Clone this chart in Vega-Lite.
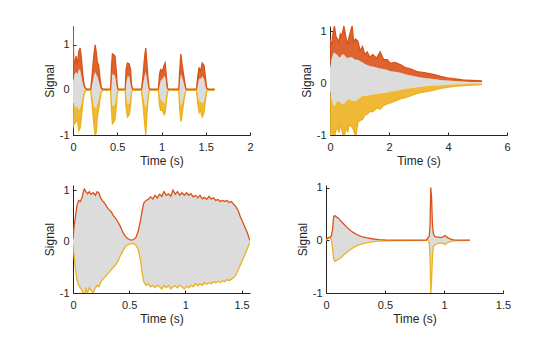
{
  "$schema": "https://vega.github.io/schema/vega-lite/v6.json",
  "padding": {"left": 43, "top": 25, "right": 5, "bottom": 5},
  "background": "white",
  "datasets": {
    "p1": [
      {"t": 0.000, "hi": 1.42, "hb": 0.2, "lb": -0.3, "lo": -0.85},
      {"t": 0.010, "hi": 0.55, "hb": 0.3, "lb": -0.3, "lo": -0.6},
      {"t": 0.020, "hi": 0.6, "hb": 0.35, "lb": -0.35, "lo": -0.75},
      {"t": 0.035, "hi": 0.75, "hb": 0.4, "lb": -0.4, "lo": -0.7},
      {"t": 0.050, "hi": 0.55, "hb": 0.35, "lb": -0.35, "lo": -0.65},
      {"t": 0.065, "hi": 0.85, "hb": 0.45, "lb": -0.45, "lo": -0.9},
      {"t": 0.080, "hi": 0.93, "hb": 0.45, "lb": -0.4, "lo": -0.85},
      {"t": 0.095, "hi": 0.7, "hb": 0.3, "lb": -0.3, "lo": -0.6},
      {"t": 0.110, "hi": 0.35, "hb": 0.15, "lb": -0.15, "lo": -0.3},
      {"t": 0.125, "hi": 0.12, "hb": 0.05, "lb": -0.05, "lo": -0.1},
      {"t": 0.140, "hi": 0.04, "hb": 0.01, "lb": -0.01, "lo": -0.02},
      {"t": 0.155, "hi": 0.02, "hb": 0.005, "lb": -0.005, "lo": -0.01},
      {"t": 0.200, "hi": 0.02, "hb": 0.005, "lb": -0.005, "lo": -0.01},
      {"t": 0.215, "hi": 0.3, "hb": 0.1, "lb": -0.1, "lo": -0.3},
      {"t": 0.235, "hi": 0.75, "hb": 0.3, "lb": -0.35, "lo": -0.75},
      {"t": 0.250, "hi": 1.0, "hb": 0.4, "lb": -0.4, "lo": -1.0},
      {"t": 0.262, "hi": 0.85, "hb": 0.35, "lb": -0.4, "lo": -0.95},
      {"t": 0.275, "hi": 0.62, "hb": 0.3, "lb": -0.3, "lo": -0.6},
      {"t": 0.290, "hi": 0.55, "hb": 0.2, "lb": -0.2, "lo": -0.45},
      {"t": 0.305, "hi": 0.25, "hb": 0.08, "lb": -0.08, "lo": -0.2},
      {"t": 0.320, "hi": 0.05, "hb": 0.01, "lb": -0.01, "lo": -0.04},
      {"t": 0.335, "hi": 0.02, "hb": 0.005, "lb": -0.005, "lo": -0.01},
      {"t": 0.425, "hi": 0.02, "hb": 0.005, "lb": -0.005, "lo": -0.01},
      {"t": 0.435, "hi": 0.5, "hb": 0.2, "lb": -0.2, "lo": -0.45},
      {"t": 0.445, "hi": 0.8, "hb": 0.35, "lb": -0.35, "lo": -0.75},
      {"t": 0.460, "hi": 0.78, "hb": 0.35, "lb": -0.35, "lo": -0.72},
      {"t": 0.475, "hi": 0.75, "hb": 0.3, "lb": -0.3, "lo": -0.65},
      {"t": 0.490, "hi": 0.4, "hb": 0.15, "lb": -0.15, "lo": -0.35},
      {"t": 0.500, "hi": 0.1, "hb": 0.03, "lb": -0.03, "lo": -0.08},
      {"t": 0.510, "hi": 0.02, "hb": 0.005, "lb": -0.005, "lo": -0.01},
      {"t": 0.590, "hi": 0.02, "hb": 0.005, "lb": -0.005, "lo": -0.01},
      {"t": 0.600, "hi": 0.45, "hb": 0.15, "lb": -0.15, "lo": -0.4},
      {"t": 0.615, "hi": 0.6, "hb": 0.3, "lb": -0.3, "lo": -0.6},
      {"t": 0.635, "hi": 0.58, "hb": 0.3, "lb": -0.3, "lo": -0.55},
      {"t": 0.650, "hi": 0.45, "hb": 0.15, "lb": -0.15, "lo": -0.35},
      {"t": 0.662, "hi": 0.1, "hb": 0.03, "lb": -0.03, "lo": -0.05},
      {"t": 0.675, "hi": 0.02, "hb": 0.005, "lb": -0.005, "lo": -0.01},
      {"t": 0.775, "hi": 0.02, "hb": 0.005, "lb": -0.005, "lo": -0.01},
      {"t": 0.790, "hi": 0.3, "hb": 0.1, "lb": -0.1, "lo": -0.3},
      {"t": 0.808, "hi": 0.7, "hb": 0.3, "lb": -0.3, "lo": -0.7},
      {"t": 0.822, "hi": 0.93, "hb": 0.4, "lb": -0.4, "lo": -1.0},
      {"t": 0.835, "hi": 0.6, "hb": 0.25, "lb": -0.25, "lo": -0.55},
      {"t": 0.848, "hi": 0.25, "hb": 0.1, "lb": -0.1, "lo": -0.2},
      {"t": 0.860, "hi": 0.04, "hb": 0.01, "lb": -0.01, "lo": -0.03},
      {"t": 0.870, "hi": 0.02, "hb": 0.005, "lb": -0.005, "lo": -0.01},
      {"t": 0.965, "hi": 0.02, "hb": 0.005, "lb": -0.005, "lo": -0.01},
      {"t": 0.978, "hi": 0.35, "hb": 0.1, "lb": -0.1, "lo": -0.35},
      {"t": 0.990, "hi": 0.45, "hb": 0.2, "lb": -0.2, "lo": -0.45},
      {"t": 1.010, "hi": 0.42, "hb": 0.25, "lb": -0.25, "lo": -0.45},
      {"t": 1.030, "hi": 0.55, "hb": 0.3, "lb": -0.3, "lo": -0.55},
      {"t": 1.042, "hi": 0.6, "hb": 0.3, "lb": -0.3, "lo": -0.5},
      {"t": 1.055, "hi": 0.3, "hb": 0.1, "lb": -0.1, "lo": -0.25},
      {"t": 1.068, "hi": 0.04, "hb": 0.01, "lb": -0.01, "lo": -0.03},
      {"t": 1.080, "hi": 0.02, "hb": 0.005, "lb": -0.005, "lo": -0.01},
      {"t": 1.195, "hi": 0.02, "hb": 0.005, "lb": -0.005, "lo": -0.01},
      {"t": 1.205, "hi": 0.4, "hb": 0.15, "lb": -0.15, "lo": -0.4},
      {"t": 1.218, "hi": 0.8, "hb": 0.35, "lb": -0.35, "lo": -0.7},
      {"t": 1.230, "hi": 0.6, "hb": 0.3, "lb": -0.3, "lo": -0.6},
      {"t": 1.245, "hi": 0.4, "hb": 0.2, "lb": -0.2, "lo": -0.35},
      {"t": 1.260, "hi": 0.2, "hb": 0.08, "lb": -0.08, "lo": -0.15},
      {"t": 1.275, "hi": 0.03, "hb": 0.01, "lb": -0.01, "lo": -0.02},
      {"t": 1.285, "hi": 0.02, "hb": 0.005, "lb": -0.005, "lo": -0.01},
      {"t": 1.395, "hi": 0.02, "hb": 0.005, "lb": -0.005, "lo": -0.01},
      {"t": 1.410, "hi": 0.3, "hb": 0.1, "lb": -0.1, "lo": -0.3},
      {"t": 1.425, "hi": 0.5, "hb": 0.25, "lb": -0.25, "lo": -0.5},
      {"t": 1.440, "hi": 0.4, "hb": 0.25, "lb": -0.25, "lo": -0.45},
      {"t": 1.460, "hi": 0.6, "hb": 0.3, "lb": -0.3, "lo": -0.6},
      {"t": 1.480, "hi": 0.55, "hb": 0.25, "lb": -0.25, "lo": -0.5},
      {"t": 1.495, "hi": 0.3, "hb": 0.1, "lb": -0.1, "lo": -0.25},
      {"t": 1.510, "hi": 0.05, "hb": 0.01, "lb": -0.01, "lo": -0.03},
      {"t": 1.525, "hi": 0.02, "hb": 0.005, "lb": -0.005, "lo": -0.01},
      {"t": 1.600, "hi": 0.02, "hb": 0.005, "lb": -0.005, "lo": -0.01}
    ],
    "p2": [
      {"t": 0.00, "hi": 0.85, "hb": 0.3, "lb": -0.15, "lo": -1.0},
      {"t": 0.05, "hi": 0.7, "hb": 0.45, "lb": -0.3, "lo": -0.95},
      {"t": 0.10, "hi": 0.95, "hb": 0.55, "lb": -0.4, "lo": -1.0},
      {"t": 0.15, "hi": 1.1, "hb": 0.6, "lb": -0.45, "lo": -1.05},
      {"t": 0.20, "hi": 0.9, "hb": 0.55, "lb": -0.4, "lo": -0.9},
      {"t": 0.25, "hi": 0.85, "hb": 0.55, "lb": -0.35, "lo": -0.85},
      {"t": 0.30, "hi": 0.8, "hb": 0.5, "lb": -0.35, "lo": -0.95},
      {"t": 0.35, "hi": 0.95, "hb": 0.5, "lb": -0.38, "lo": -0.8},
      {"t": 0.40, "hi": 0.9, "hb": 0.55, "lb": -0.4, "lo": -0.9},
      {"t": 0.47, "hi": 1.1, "hb": 0.55, "lb": -0.4, "lo": -1.05},
      {"t": 0.55, "hi": 0.85, "hb": 0.5, "lb": -0.35, "lo": -0.85},
      {"t": 0.60, "hi": 0.75, "hb": 0.48, "lb": -0.33, "lo": -0.95},
      {"t": 0.65, "hi": 0.9, "hb": 0.5, "lb": -0.3, "lo": -0.8},
      {"t": 0.75, "hi": 1.1, "hb": 0.5, "lb": -0.35, "lo": -0.85},
      {"t": 0.80, "hi": 0.8, "hb": 0.47, "lb": -0.33, "lo": -0.9},
      {"t": 0.87, "hi": 0.85, "hb": 0.45, "lb": -0.35, "lo": -1.05},
      {"t": 0.95, "hi": 0.8, "hb": 0.45, "lb": -0.3, "lo": -0.75},
      {"t": 1.02, "hi": 0.62, "hb": 0.42, "lb": -0.28, "lo": -0.72},
      {"t": 1.10, "hi": 0.7, "hb": 0.4, "lb": -0.25, "lo": -0.7},
      {"t": 1.18, "hi": 0.55, "hb": 0.37, "lb": -0.25, "lo": -0.62},
      {"t": 1.26, "hi": 0.6, "hb": 0.35, "lb": -0.25, "lo": -0.6},
      {"t": 1.35, "hi": 0.5, "hb": 0.33, "lb": -0.23, "lo": -0.55},
      {"t": 1.45, "hi": 0.55, "hb": 0.32, "lb": -0.22, "lo": -0.55},
      {"t": 1.58, "hi": 0.48, "hb": 0.3, "lb": -0.21, "lo": -0.48},
      {"t": 1.70, "hi": 0.6, "hb": 0.28, "lb": -0.2, "lo": -0.5},
      {"t": 1.82, "hi": 0.45, "hb": 0.27, "lb": -0.19, "lo": -0.43},
      {"t": 1.94, "hi": 0.45, "hb": 0.25, "lb": -0.18, "lo": -0.4},
      {"t": 2.05, "hi": 0.38, "hb": 0.23, "lb": -0.16, "lo": -0.38},
      {"t": 2.20, "hi": 0.4, "hb": 0.22, "lb": -0.15, "lo": -0.35},
      {"t": 2.40, "hi": 0.35, "hb": 0.2, "lb": -0.13, "lo": -0.3},
      {"t": 2.55, "hi": 0.3, "hb": 0.17, "lb": -0.11, "lo": -0.28},
      {"t": 2.70, "hi": 0.28, "hb": 0.15, "lb": -0.1, "lo": -0.25},
      {"t": 2.95, "hi": 0.22, "hb": 0.12, "lb": -0.08, "lo": -0.2},
      {"t": 3.20, "hi": 0.2, "hb": 0.1, "lb": -0.06, "lo": -0.17},
      {"t": 3.50, "hi": 0.17, "hb": 0.08, "lb": -0.05, "lo": -0.14},
      {"t": 3.75, "hi": 0.13, "hb": 0.06, "lb": -0.04, "lo": -0.1},
      {"t": 3.97, "hi": 0.1, "hb": 0.05, "lb": -0.03, "lo": -0.08},
      {"t": 4.25, "hi": 0.08, "hb": 0.04, "lb": -0.02, "lo": -0.06},
      {"t": 4.50, "hi": 0.06, "hb": 0.03, "lb": -0.02, "lo": -0.05},
      {"t": 4.80, "hi": 0.05, "hb": 0.02, "lb": -0.01, "lo": -0.04},
      {"t": 5.15, "hi": 0.04, "hb": 0.02, "lb": -0.01, "lo": -0.03}
    ],
    "p3": [
      {"t": 0.000, "hi": 0.05, "lo": -0.05},
      {"t": 0.010, "hi": 0.3, "lo": -0.3},
      {"t": 0.020, "hi": 0.45, "lo": -0.5},
      {"t": 0.035, "hi": 0.7, "lo": -0.75},
      {"t": 0.050, "hi": 0.8, "lo": -0.85},
      {"t": 0.065, "hi": 0.78, "lo": -0.9},
      {"t": 0.080, "hi": 0.85, "lo": -0.95},
      {"t": 0.090, "hi": 0.95, "lo": -1.02},
      {"t": 0.100, "hi": 1.02, "lo": -1.05},
      {"t": 0.115, "hi": 0.97, "lo": -0.92},
      {"t": 0.130, "hi": 0.93, "lo": -1.0},
      {"t": 0.145, "hi": 0.97, "lo": -0.9},
      {"t": 0.160, "hi": 0.92, "lo": -0.95},
      {"t": 0.180, "hi": 0.95, "lo": -1.0},
      {"t": 0.200, "hi": 0.9, "lo": -0.9},
      {"t": 0.215, "hi": 0.97, "lo": -0.85},
      {"t": 0.230, "hi": 0.95, "lo": -0.88},
      {"t": 0.245, "hi": 0.85, "lo": -0.8},
      {"t": 0.260, "hi": 0.8, "lo": -0.75},
      {"t": 0.280, "hi": 0.75, "lo": -0.7},
      {"t": 0.300, "hi": 0.68, "lo": -0.65},
      {"t": 0.320, "hi": 0.62, "lo": -0.6},
      {"t": 0.340, "hi": 0.58, "lo": -0.55},
      {"t": 0.360, "hi": 0.5, "lo": -0.5},
      {"t": 0.380, "hi": 0.45, "lo": -0.45},
      {"t": 0.400, "hi": 0.38, "lo": -0.38},
      {"t": 0.420, "hi": 0.3, "lo": -0.28},
      {"t": 0.440, "hi": 0.2, "lo": -0.2},
      {"t": 0.460, "hi": 0.12, "lo": -0.12},
      {"t": 0.480, "hi": 0.07, "lo": -0.07},
      {"t": 0.500, "hi": 0.04, "lo": -0.05},
      {"t": 0.520, "hi": 0.03, "lo": -0.04},
      {"t": 0.540, "hi": 0.04, "lo": -0.04},
      {"t": 0.560, "hi": 0.08, "lo": -0.07},
      {"t": 0.580, "hi": 0.2, "lo": -0.15},
      {"t": 0.600, "hi": 0.4, "lo": -0.35},
      {"t": 0.615, "hi": 0.6, "lo": -0.6},
      {"t": 0.630, "hi": 0.75, "lo": -0.78},
      {"t": 0.650, "hi": 0.8, "lo": -0.85},
      {"t": 0.670, "hi": 0.82, "lo": -0.82},
      {"t": 0.690, "hi": 0.87, "lo": -0.88},
      {"t": 0.710, "hi": 0.83, "lo": -0.85},
      {"t": 0.730, "hi": 0.9, "lo": -0.9},
      {"t": 0.750, "hi": 0.85, "lo": -0.85},
      {"t": 0.770, "hi": 0.92, "lo": -0.88},
      {"t": 0.790, "hi": 0.88, "lo": -0.92},
      {"t": 0.810, "hi": 0.97, "lo": -0.85},
      {"t": 0.830, "hi": 0.9, "lo": -0.9},
      {"t": 0.850, "hi": 0.93, "lo": -0.85},
      {"t": 0.870, "hi": 0.88, "lo": -0.92},
      {"t": 0.890, "hi": 1.0, "lo": -0.88},
      {"t": 0.910, "hi": 0.92, "lo": -0.86},
      {"t": 0.930, "hi": 0.97, "lo": -0.9},
      {"t": 0.950, "hi": 0.9, "lo": -0.85},
      {"t": 0.970, "hi": 0.95, "lo": -0.88},
      {"t": 0.990, "hi": 0.9, "lo": -0.92},
      {"t": 1.010, "hi": 0.95, "lo": -0.87},
      {"t": 1.030, "hi": 0.9, "lo": -0.9},
      {"t": 1.050, "hi": 0.93, "lo": -0.85},
      {"t": 1.070, "hi": 0.87, "lo": -0.88},
      {"t": 1.090, "hi": 0.9, "lo": -0.82},
      {"t": 1.110, "hi": 0.85, "lo": -0.86},
      {"t": 1.130, "hi": 0.9, "lo": -0.82},
      {"t": 1.150, "hi": 0.83, "lo": -0.85},
      {"t": 1.170, "hi": 0.86, "lo": -0.8},
      {"t": 1.190, "hi": 0.82, "lo": -0.83},
      {"t": 1.210, "hi": 0.88, "lo": -0.8},
      {"t": 1.230, "hi": 0.83, "lo": -0.82},
      {"t": 1.250, "hi": 0.85, "lo": -0.78},
      {"t": 1.270, "hi": 0.8, "lo": -0.8},
      {"t": 1.290, "hi": 0.82, "lo": -0.77},
      {"t": 1.310, "hi": 0.78, "lo": -0.8},
      {"t": 1.330, "hi": 0.8, "lo": -0.76},
      {"t": 1.350, "hi": 0.78, "lo": -0.78},
      {"t": 1.370, "hi": 0.8, "lo": -0.74},
      {"t": 1.390, "hi": 0.76, "lo": -0.76},
      {"t": 1.410, "hi": 0.78, "lo": -0.73},
      {"t": 1.430, "hi": 0.72, "lo": -0.7},
      {"t": 1.450, "hi": 0.68, "lo": -0.65},
      {"t": 1.470, "hi": 0.6, "lo": -0.55},
      {"t": 1.490, "hi": 0.48, "lo": -0.45},
      {"t": 1.510, "hi": 0.38, "lo": -0.35},
      {"t": 1.530, "hi": 0.28, "lo": -0.25},
      {"t": 1.550, "hi": 0.18, "lo": -0.15},
      {"t": 1.565, "hi": 0.08, "lo": -0.06},
      {"t": 1.575, "hi": 0.02, "lo": -0.02}
    ],
    "p4": [
      {"t": 0.000, "hi": 0.02, "lo": 0.0},
      {"t": 0.020, "hi": 0.05, "lo": 0.04},
      {"t": 0.035, "hi": 0.06, "lo": 0.05},
      {"t": 0.045, "hi": 0.08, "lo": 0.02},
      {"t": 0.055, "hi": 0.2, "lo": -0.15},
      {"t": 0.065, "hi": 0.45, "lo": -0.35},
      {"t": 0.075, "hi": 0.47, "lo": -0.4},
      {"t": 0.090, "hi": 0.44, "lo": -0.38},
      {"t": 0.105, "hi": 0.42, "lo": -0.36},
      {"t": 0.125, "hi": 0.37, "lo": -0.33},
      {"t": 0.150, "hi": 0.31, "lo": -0.28},
      {"t": 0.175, "hi": 0.25, "lo": -0.23},
      {"t": 0.200, "hi": 0.2, "lo": -0.19},
      {"t": 0.230, "hi": 0.15, "lo": -0.14},
      {"t": 0.260, "hi": 0.11, "lo": -0.1},
      {"t": 0.300, "hi": 0.07, "lo": -0.07},
      {"t": 0.340, "hi": 0.05, "lo": -0.05},
      {"t": 0.400, "hi": 0.025, "lo": -0.025},
      {"t": 0.450, "hi": 0.015, "lo": -0.015},
      {"t": 0.500, "hi": 0.008, "lo": -0.008},
      {"t": 0.600, "hi": 0.004, "lo": -0.004},
      {"t": 0.850, "hi": 0.003, "lo": -0.003},
      {"t": 0.862, "hi": 0.04, "lo": 0.02},
      {"t": 0.875, "hi": 0.08, "lo": -0.05},
      {"t": 0.882, "hi": 0.3, "lo": -0.3},
      {"t": 0.888, "hi": 1.0, "lo": -1.0},
      {"t": 0.895, "hi": 0.8, "lo": -0.75},
      {"t": 0.902, "hi": 0.3, "lo": -0.3},
      {"t": 0.910, "hi": 0.12, "lo": -0.12},
      {"t": 0.925, "hi": 0.07, "lo": -0.08},
      {"t": 0.950, "hi": 0.06, "lo": -0.06},
      {"t": 0.975, "hi": 0.05, "lo": -0.05},
      {"t": 0.995, "hi": 0.07, "lo": -0.06},
      {"t": 1.010, "hi": 0.09, "lo": -0.08},
      {"t": 1.025, "hi": 0.06, "lo": -0.05},
      {"t": 1.045, "hi": 0.03, "lo": -0.03},
      {"t": 1.080, "hi": 0.01, "lo": -0.01},
      {"t": 1.150, "hi": 0.004, "lo": -0.004},
      {"t": 1.220, "hi": 0.003, "lo": -0.003}
    ]
  },
  "vconcat": [
    {
      "hconcat": [
        {
          "width": 177, "height": 109,
          "data": {"name": "p1"},
          "encoding": {
            "x": {"field": "t", "type": "quantitative", "title": "Time (s)", "scale": {"domain": [0, 2], "nice": false, "zero": false}, "axis": {"values": [0, 0.5, 1, 1.5, 2], "labelExpr": "'' + datum.value"}}
          },
          "layer": [
            {"mark": {"type": "area", "color": "#dcdcdc", "clip": true}, "encoding": {"y": {"field": "lb", "type": "quantitative", "title": "Signal", "scale": {"domain": [-1, 1.42], "nice": false, "zero": false}, "axis": {"values": [-1, -0.5, 0, 0.5, 1], "labelExpr": "'' + datum.value"}}, "y2": {"field": "hb"}}},
            {"mark": {"type": "area", "color": "#D95319", "opacity": 0.9, "clip": true}, "encoding": {"y": {"field": "hb", "type": "quantitative", "title": "Signal"}, "y2": {"field": "hi"}}},
            {"mark": {"type": "area", "color": "#EDB120", "opacity": 0.9, "clip": true}, "encoding": {"y": {"field": "lo", "type": "quantitative", "title": "Signal"}, "y2": {"field": "lb"}}},
            {"mark": {"type": "line", "color": "#EDB120", "strokeWidth": 1.3, "clip": true}, "encoding": {"y": {"field": "lo", "type": "quantitative", "title": "Signal"}}},
            {"mark": {"type": "line", "color": "#D95319", "strokeWidth": 1.3, "clip": true}, "encoding": {"y": {"field": "hi", "type": "quantitative", "title": "Signal"}}}
          ]
        },
        {
          "width": 177, "height": 109,
          "data": {"name": "p2"},
          "encoding": {
            "x": {"field": "t", "type": "quantitative", "title": "Time (s)", "scale": {"domain": [0, 6], "nice": false, "zero": false}, "axis": {"values": [0, 2, 4, 6], "labelExpr": "'' + datum.value"}}
          },
          "layer": [
            {"mark": {"type": "area", "color": "#dcdcdc", "clip": true}, "encoding": {"y": {"field": "lb", "type": "quantitative", "title": "Signal", "scale": {"domain": [-1, 1.1], "nice": false, "zero": false}, "axis": {"values": [-1, -0.5, 0, 0.5, 1], "labelExpr": "'' + datum.value"}}, "y2": {"field": "hb"}}},
            {"mark": {"type": "area", "color": "#D95319", "opacity": 0.9, "clip": true}, "encoding": {"y": {"field": "hb", "type": "quantitative", "title": "Signal"}, "y2": {"field": "hi"}}},
            {"mark": {"type": "area", "color": "#EDB120", "opacity": 0.9, "clip": true}, "encoding": {"y": {"field": "lo", "type": "quantitative", "title": "Signal"}, "y2": {"field": "lb"}}},
            {"mark": {"type": "line", "color": "#EDB120", "strokeWidth": 1.3, "clip": true}, "encoding": {"y": {"field": "lo", "type": "quantitative", "title": "Signal"}}},
            {"mark": {"type": "line", "color": "#D95319", "strokeWidth": 1.3, "clip": true}, "encoding": {"y": {"field": "hi", "type": "quantitative", "title": "Signal"}}}
          ]
        }
      ],
      "spacing": 46
    },
    {
      "hconcat": [
        {
          "width": 177, "height": 108,
          "data": {"name": "p3"},
          "encoding": {
            "x": {"field": "t", "type": "quantitative", "title": "Time (s)", "scale": {"domain": [0, 1.575], "nice": false, "zero": false}, "axis": {"values": [0, 0.5, 1, 1.5], "labelExpr": "'' + datum.value"}}
          },
          "layer": [
            {"mark": {"type": "area", "color": "#dcdcdc", "clip": true}, "encoding": {"y": {"field": "lo", "type": "quantitative", "title": "Signal", "scale": {"domain": [-1, 1.1], "nice": false, "zero": false}, "axis": {"values": [-1, -0.5, 0, 0.5, 1], "labelExpr": "'' + datum.value"}}, "y2": {"field": "hi"}}},
            {"mark": {"type": "line", "color": "#EDB120", "strokeWidth": 1.3, "clip": true}, "encoding": {"y": {"field": "lo", "type": "quantitative", "title": "Signal"}}},
            {"mark": {"type": "line", "color": "#D95319", "strokeWidth": 1.3, "clip": true}, "encoding": {"y": {"field": "hi", "type": "quantitative", "title": "Signal"}}}
          ]
        },
        {
          "width": 177, "height": 108,
          "data": {"name": "p4"},
          "encoding": {
            "x": {"field": "t", "type": "quantitative", "title": "Time (s)", "scale": {"domain": [0, 1.5], "nice": false, "zero": false}, "axis": {"values": [0, 0.5, 1, 1.5], "labelExpr": "'' + datum.value"}}
          },
          "layer": [
            {"mark": {"type": "area", "color": "#dcdcdc", "clip": true}, "encoding": {"y": {"field": "lo", "type": "quantitative", "title": "Signal", "scale": {"domain": [-1, 1.05], "nice": false, "zero": false}, "axis": {"values": [-1, -0.5, 0, 0.5, 1], "labelExpr": "'' + datum.value"}}, "y2": {"field": "hi"}}},
            {"mark": {"type": "line", "color": "#EDB120", "strokeWidth": 1.3, "clip": true}, "encoding": {"y": {"field": "lo", "type": "quantitative", "title": "Signal"}}},
            {"mark": {"type": "line", "color": "#D95319", "strokeWidth": 1.3, "clip": true}, "encoding": {"y": {"field": "hi", "type": "quantitative", "title": "Signal"}}}
          ]
        }
      ],
      "spacing": 46
    }
  ],
  "spacing": 15,
  "config": {
    "view": {"stroke": null},
    "font": "Liberation Sans",
    "axis": {
      "grid": false,
      "domainColor": "#262626",
      "domainWidth": 1,
      "tickColor": "#262626",
      "tickSize": -3,
      "labelPadding": 7,
      "labelFontSize": 11,
      "labelColor": "#262626",
      "labelFlush": false,
      "labelOverlap": false,
      "titleFontSize": 12,
      "titleFontWeight": "normal",
      "titleColor": "#262626",
      "titlePadding": 3
    },
    "axisX": {"labelPadding": 9}
  }
}
